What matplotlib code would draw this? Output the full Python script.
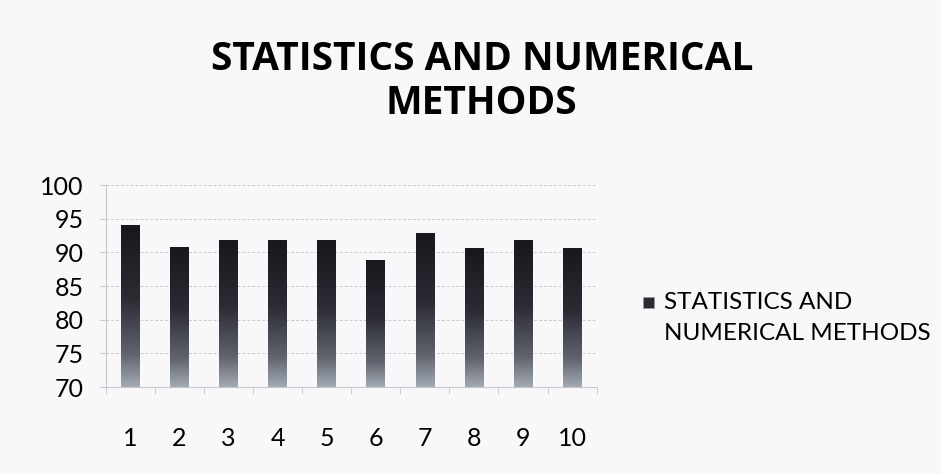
import matplotlib
matplotlib.use("Agg")
import matplotlib.pyplot as plt
from matplotlib.patches import Rectangle
from matplotlib.legend_handler import HandlerPatch
import numpy as np

# values
categories = ["1", "2", "3", "4", "5", "6", "7", "8", "9", "10"]
scores = [94.0, 90.8, 91.9, 91.9, 91.9, 88.8, 92.9, 90.7, 91.9, 90.7]
series_name = "STATISTICS AND\nNUMERICAL METHODS"
title = "STATISTICS AND NUMERICAL\nMETHODS"
y_ticks = [70, 75, 80, 85, 90, 95, 100]

plt.rcParams["font.family"] = ["Lato", "DejaVu Sans"]
bg = "#f8f8fa"

fig = plt.figure(figsize=(9.41, 4.74), dpi=100, facecolor=bg)
ax = fig.add_axes([0.1126, 0.1835, 0.5214, 0.4262], facecolor=bg)

x = np.arange(1, len(categories) + 1)
bars = ax.bar(x, scores, width=0.38, color="none", edgecolor="none", zorder=3)

# dark-to-light vertical gradient inside every bar
grad = np.linspace(0, 1, 256).reshape(-1, 1)
cmap = matplotlib.colors.LinearSegmentedColormap.from_list(
    "bar", [(0, "#a3aab3"), (0.2, "#60646e"), (0.55, "#2b2b34"), (1, "#17171d")])
for b in bars:
    x0, w, h = b.get_x(), b.get_width(), b.get_height()
    im = ax.imshow(grad, cmap=cmap, origin="lower", aspect="auto",
                   extent=(x0, x0 + w, 70, h), zorder=3)
    im.set_clip_path(b)

ax.set_xlim(0.5, 10.5)
ax.set_ylim(70, 100)
ax.set_yticks(y_ticks)
ax.set_xticks(x)
ax.set_xticklabels(categories)
ax.set_xticks(np.arange(0.5, 11, 1), minor=True)

ax.tick_params(axis="y", labelsize=18, length=4, color="#c8c8cc", pad=12)
ax.tick_params(axis="x", which="major", labelsize=18, length=0, pad=29)
ax.tick_params(axis="x", which="minor", length=5, color="#c8c8cc")

ax.grid(axis="y", color="#cacace", linestyle=(0, (3, 2)), linewidth=0.7, zorder=0)
for side in ["top", "right"]:
    ax.spines[side].set_visible(False)
for side in ["left", "bottom"]:
    ax.spines[side].set_color("#c8c8cc")
    ax.spines[side].set_linewidth(0.8)

fig.text(0.512, 0.828, title, ha="center", va="center", fontsize=28,
         fontweight="bold", family=["Open Sans", "DejaVu Sans"], linespacing=1.18)


# small square next to the first line of the legend label
def top_square(legend, orig_handle, xdescent, ydescent, width, height, fontsize):
    s = 0.45 * fontsize
    return Rectangle((-xdescent, -ydescent + height - s - 0.05 * fontsize), s, s)


proxy = Rectangle((0, 0), 1, 1, facecolor="#2a2a32", edgecolor="#9a9aa0",
                  linewidth=0.5)
leg = ax.legend([proxy], [series_name], loc="center left",
                bbox_to_anchor=(1.05, 0.34), frameon=False,
                fontsize=17.5, handlelength=0.45, handleheight=2.6,
                handletextpad=0.4,
                handler_map={Rectangle: HandlerPatch(patch_func=top_square)})
for t in leg.get_texts():
    t.set_linespacing(1.6)

fig.savefig("out.png", dpi=100, facecolor=bg)
